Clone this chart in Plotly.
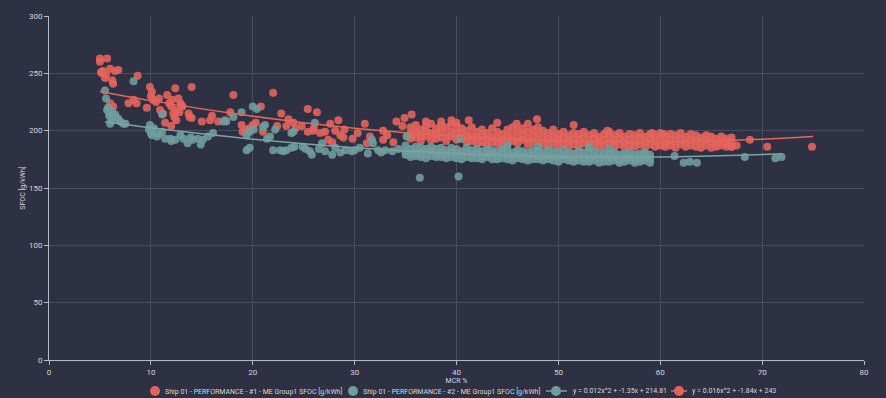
import plotly.graph_objects as go

# ---------------- data ----------------
# Ship 01 #1 (red) scattered points
red_x = [
    5.0, 5.0, 5.7, 5.1, 5.2, 6.0, 6.5, 6.8, 5.5, 6.2, 6.3, 8.7, 7.8, 8.6, 8.3, 6.0, 6.3, 5.3, 5.6,
    9.9, 10.1, 10.0, 10.2, 9.6, 10.5, 11.6, 12.4, 12.1, 12.0, 12.2, 12.5, 12.9, 12.7, 13.1, 11.4, 12.0,
    12.5, 14.0, 13.8, 13.7, 14.0, 15.0, 11.2, 10.9, 11.8, 12.3, 12.8, 13.0, 10.8,
    18.1, 17.8, 16.6, 17.3, 18.9, 19.0, 19.3, 19.7, 20.0, 20.8, 20.3, 22.0, 22.8, 22.4, 23.3, 24.2,
    21.0, 19.5, 16.0, 15.8,
    24.8, 25.4, 25.4, 26.3, 25.9, 26.6, 27.1, 27.6, 28.4, 28.1, 28.6, 27.4, 27.8, 28.9, 29.8, 31.0,
    31.2, 31.5, 32.8, 32.8, 33.8, 34.1, 34.7, 34.9, 35.6, 33.2, 35.3, 30.3, 29.0, 26.0, 24.0, 23.5,
    41.2, 44.0, 45.9, 47.0, 47.9, 51.5, 54.8, 59.2, 60.3, 67.0, 67.5, 68.8, 70.5, 74.9, 38.5, 39.5,
    40.0, 37.0,
]
red_y = [
    263, 260, 263, 251, 250, 254, 252, 253, 246, 244, 241, 248, 224, 224, 227, 224, 221, 252, 249,
    238, 234, 230, 227, 220, 225, 231, 237, 227, 221, 215, 218, 224, 228, 221, 207, 204,
    209, 238, 212, 215, 211, 208, 215, 218, 224, 212, 216, 222, 228,
    231, 216, 208, 209, 205, 199, 201, 202, 205, 221, 207, 233, 215, 204, 204, 202,
    199, 200, 213, 209,
    204, 199, 219, 216, 200, 198, 199, 206, 209, 200, 196, 192, 190, 194, 193, 206,
    189, 195, 200, 192, 190, 208, 204, 211, 214, 196, 195, 198, 201, 202, 207, 210,
    209, 207, 206, 206, 210, 205, 200, 198, 197, 186, 187, 192, 186, 186, 208, 209,
    207, 208,
]
# dense band of #1 readings (35 - 67 % MCR)
red_band_x = [
    35.5, 35.5, 35.5, 36.0, 36.0, 36.0, 36.5, 36.5, 36.5, 37.0, 37.0, 37.0, 37.5, 37.5, 37.5,
    38.0, 38.0, 38.0, 38.5, 38.5, 38.5, 39.0, 39.0, 39.0, 39.5, 39.5, 39.5, 40.0, 40.0, 40.0,
    40.5, 40.5, 40.5, 41.0, 41.0, 41.0, 41.5, 41.5, 41.5, 42.0, 42.0, 42.0, 42.5, 42.5, 42.5,
    43.0, 43.0, 43.0, 43.5, 43.5, 43.5, 44.0, 44.0, 44.0, 44.5, 44.5, 44.5, 45.0, 45.0, 45.0,
    45.5, 45.5, 45.5, 46.0, 46.0, 46.0, 46.5, 46.5, 46.5, 47.0, 47.0, 47.0, 47.5, 47.5, 47.5,
    48.0, 48.0, 48.0, 48.5, 48.5, 48.5, 49.0, 49.0, 49.0, 49.5, 49.5, 49.5, 50.0, 50.0, 50.0,
    50.5, 50.5, 50.5, 51.0, 51.0, 51.0, 51.5, 51.5, 51.5, 52.0, 52.0, 52.0, 52.5, 52.5, 52.5,
    53.0, 53.0, 53.0, 53.5, 53.5, 53.5, 54.0, 54.0, 54.0, 54.5, 54.5, 54.5, 55.0, 55.0, 55.0,
    55.5, 55.5, 55.5, 56.0, 56.0, 56.0, 56.5, 56.5, 56.5, 57.0, 57.0, 57.0, 57.5, 57.5, 57.5,
    58.0, 58.0, 58.0, 58.5, 58.5, 58.5, 59.0, 59.0, 59.0, 59.5, 59.5, 59.5, 60.0, 60.0, 60.0,
    60.5, 60.5, 60.5, 61.0, 61.0, 61.0, 61.5, 61.5, 61.5, 62.0, 62.0, 62.0, 62.5, 62.5, 62.5,
    63.0, 63.0, 63.0, 63.5, 63.5, 63.5, 64.0, 64.0, 64.0, 64.5, 64.5, 64.5, 65.0, 65.0, 65.0,
    65.5, 65.5, 65.5, 66.0, 66.0, 66.0, 66.5, 66.5, 66.5, 67.0, 67.0, 67.0,
]
red_band_y = [
    203, 198, 193, 205, 199, 194, 201, 196, 191, 204, 200, 195, 206, 198, 192,
    202, 197, 193, 205, 200, 194, 203, 196, 191, 206, 199, 195, 204, 198, 192,
    202, 197, 193, 200, 195, 190, 203, 196, 191, 199, 194, 189, 201, 196, 190,
    198, 193, 188, 202, 195, 190, 199, 194, 189, 197, 192, 187, 201, 195, 190,
    203, 196, 191, 200, 194, 189, 202, 197, 192, 199, 193, 188, 201, 196, 190,
    203, 197, 191, 200, 194, 188, 198, 193, 187, 201, 195, 189, 197, 192, 187,
    199, 194, 188, 196, 191, 186, 198, 193, 188, 197, 192, 186, 199, 194, 189,
    196, 190, 185, 198, 193, 188, 195, 191, 186, 197, 192, 187, 199, 194, 189,
    196, 191, 186, 198, 193, 188, 195, 190, 185, 197, 192, 187, 196, 191, 186,
    198, 194, 188, 195, 190, 185, 197, 193, 188, 196, 191, 186, 198, 193, 187,
    195, 190, 186, 197, 192, 187, 196, 191, 185, 198, 193, 188, 195, 190, 186,
    197, 192, 187, 196, 191, 186, 194, 190, 185, 196, 192, 187, 195, 190, 185,
    193, 189, 186, 195, 191, 187, 193, 189, 186, 194, 190, 186,
]

# Ship 01 #2 (teal) scattered points
teal_x = [
    5.5, 5.6, 5.7, 6.0, 6.3, 6.1, 6.7, 7.0, 7.3, 6.0, 5.8, 6.5, 7.5, 5.9, 8.3, 6.2, 6.8,
    9.9, 10.1, 10.1, 10.6, 11.1, 11.4, 11.9, 12.4, 12.9, 13.2, 13.6, 14.1, 14.6, 15.1, 15.6, 16.1,
    11.1, 10.3, 10.0, 10.8, 12.0, 13.9, 14.9, 9.8,
    17.4, 18.1, 18.9, 20.0, 19.4, 19.7, 20.1, 21.0, 21.2, 21.7, 22.2, 19.4, 19.7, 22.0, 22.7, 23.0,
    23.3, 23.8, 24.0, 17.1, 20.4, 21.4, 23.8,
    24.1, 24.9, 25.6, 25.8, 26.1, 26.8, 27.1, 27.8, 28.1, 29.1, 29.7, 30.5, 31.3, 31.7, 31.8, 32.3,
    33.0, 33.7, 34.3, 26.5, 28.6, 30.0, 32.6, 25.2,
    61.4, 62.3, 62.9, 63.6, 68.3, 71.3, 71.9, 36.4, 40.2, 35.1, 40.3, 45.0, 48.0, 55.0, 53.0,
]
teal_y = [
    235, 228, 218, 215, 212, 209, 211, 208, 206, 206, 220, 214, 206, 213, 243, 217, 210,
    205, 200, 196, 195, 199, 193, 193, 192, 196, 193, 189, 192, 193, 192, 195, 198,
    214, 202, 198, 197, 191, 194, 188, 201,
    208, 212, 216, 221, 196, 199, 201, 203, 205, 195, 201, 183, 185, 183, 183, 182,
    183, 185, 199, 208, 219, 193, 198,
    186, 186, 182, 179, 207, 189, 182, 179, 185, 183, 182, 185, 180, 192, 189, 183,
    183, 182, 184, 184, 181, 183, 181, 184,
    178, 172, 173, 172, 177, 176, 177, 159, 160, 195, 193, 187, 186, 184, 186,
]
# dense band of #2 readings (35 - 59 % MCR)
teal_band_x = [
    35.0, 35.0, 35.0, 35.5, 35.5, 35.5, 36.0, 36.0, 36.0, 36.5, 36.5, 36.5, 37.0, 37.0, 37.0,
    37.5, 37.5, 37.5, 38.0, 38.0, 38.0, 38.5, 38.5, 38.5, 39.0, 39.0, 39.0, 39.5, 39.5, 39.5,
    40.0, 40.0, 40.0, 40.5, 40.5, 40.5, 41.0, 41.0, 41.0, 41.5, 41.5, 41.5, 42.0, 42.0, 42.0,
    42.5, 42.5, 42.5, 43.0, 43.0, 43.0, 43.5, 43.5, 43.5, 44.0, 44.0, 44.0, 44.5, 44.5, 44.5,
    45.0, 45.0, 45.0, 45.5, 45.5, 45.5, 46.0, 46.0, 46.0, 46.5, 46.5, 46.5, 47.0, 47.0, 47.0,
    47.5, 47.5, 47.5, 48.0, 48.0, 48.0, 48.5, 48.5, 48.5, 49.0, 49.0, 49.0, 49.5, 49.5, 49.5,
    50.0, 50.0, 50.0, 50.5, 50.5, 50.5, 51.0, 51.0, 51.0, 51.5, 51.5, 51.5, 52.0, 52.0, 52.0,
    52.5, 52.5, 52.5, 53.0, 53.0, 53.0, 53.5, 53.5, 53.5, 54.0, 54.0, 54.0, 54.5, 54.5, 54.5,
    55.0, 55.0, 55.0, 55.5, 55.5, 55.5, 56.0, 56.0, 56.0, 56.5, 56.5, 56.5, 57.0, 57.0, 57.0,
    57.5, 57.5, 57.5, 58.0, 58.0, 58.0, 58.5, 58.5, 58.5, 59.0, 59.0, 59.0,
]
teal_band_y = [
    187, 182, 179, 184, 180, 177, 186, 181, 178, 185, 181, 177, 184, 180, 176,
    186, 182, 178, 184, 180, 177, 185, 181, 177, 183, 179, 176, 185, 181, 177,
    184, 180, 176, 182, 179, 175, 185, 181, 177, 183, 179, 176, 184, 180, 176,
    182, 178, 175, 184, 180, 177, 183, 179, 175, 182, 178, 175, 184, 180, 176,
    183, 179, 175, 181, 178, 174, 183, 179, 176, 182, 178, 175, 181, 177, 174,
    183, 179, 175, 182, 178, 175, 181, 177, 174, 183, 178, 175, 182, 177, 174,
    181, 177, 173, 183, 178, 175, 181, 177, 174, 180, 176, 173, 182, 177, 174,
    181, 176, 173, 180, 176, 173, 182, 177, 174, 180, 176, 172, 181, 177, 173,
    180, 176, 173, 181, 177, 174, 179, 175, 172, 180, 176, 173, 181, 177, 174,
    179, 175, 172, 180, 176, 173, 181, 177, 174, 179, 175, 172,
]

# trend lines
teal_fit_x = [5.5, 10, 15, 20, 25, 30, 35, 40, 45, 50, 55, 60, 65, 72]
teal_fit_y = [207.8, 202.5, 197.3, 192.6, 188.6, 185.1, 182.3, 180.0, 178.4, 177.3, 176.9, 177.0, 177.8, 179.8]
red_fit_x = [5, 10, 15, 20, 25, 30, 35, 40, 45, 50, 55, 60, 65, 70, 75]
red_fit_y = [234.2, 226.2, 219.0, 212.6, 207.0, 202.2, 198.2, 195.0, 192.6, 191.0, 190.2, 190.2, 191.0, 192.6, 195.0]

name_red = "Ship 01 - PERFORMANCE - #1 - ME Group1 SFOC [g/kWh]"
name_teal = "Ship 01 - PERFORMANCE - #2 - ME Group1 SFOC [g/kWh]"
name_teal_fit = "y = 0.012x^2 + -1.35x + 214.81"
name_red_fit = "y = 0.016x^2 + -1.84x + 243"

x_ticks = [0, 10, 20, 30, 40, 50, 60, 70, 80]
y_ticks = [0, 50, 100, 150, 200, 250, 300]

# ---------------- styles ----------------
BG = "#2e3143"
RED = "#e4645c"
TEAL = "#6f9c9c"
RED_LINE = "#e4675c"
TEAL_LINE = "#7aa5a5"
GRID = "#494c5c"
AXIS = "#b9bbc3"
FONT = "Liberation Sans Narrow, Roboto, Lato, sans-serif"
TXT = "#d6d7dc"

W, H = 886, 398
ML, MR, MT, MB = 49, 22, 16, 38
PW, PH = W - ML - MR, H - MT - MB


def px_x(p):
    return (p - ML) / PW


def px_y(p):
    return (H - MB - p) / PH


fig = go.Figure()
fig.add_trace(go.Scatter(
    x=red_x + red_band_x, y=red_y + red_band_y, mode="markers", name=name_red,
    marker=dict(color=RED, size=8, opacity=0.9, line=dict(width=0)), showlegend=False,
))
fig.add_trace(go.Scatter(
    x=teal_x + teal_band_x, y=teal_y + teal_band_y, mode="markers", name=name_teal,
    marker=dict(color=TEAL, size=8, opacity=0.9, line=dict(width=0)), showlegend=False,
))
fig.add_trace(go.Scatter(
    x=teal_fit_x, y=teal_fit_y, mode="lines", name=name_teal_fit,
    line=dict(color=TEAL_LINE, width=1.5, shape="spline"), showlegend=False,
))
fig.add_trace(go.Scatter(
    x=red_fit_x, y=red_fit_y, mode="lines", name=name_red_fit,
    line=dict(color=RED_LINE, width=1.5, shape="spline"), showlegend=False,
))

# ---- legend row drawn below the axis (pixel layout) ----
LEG_Y = 391
legend_items = [
    # (kind, symbol centre px, line start px, line end px, text left px, label, marker colour, line colour)
    ("dot", 155, None, None, 163, name_red, RED, None),
    ("dot", 353, None, None, 361, name_teal, TEAL, None),
    ("line", 556, 546, 567, 571, name_teal_fit, TEAL, TEAL_LINE),
    ("line", 679, 671, 687, 690, name_red_fit, RED, RED_LINE),
]
shapes = []
annotations = []
for kind, cx, l0, l1, tx, label, mcol, lcol in legend_items:
    if kind == "line":
        shapes.append(dict(
            type="line", xref="paper", yref="paper",
            x0=px_x(l0), x1=px_x(l1), y0=px_y(LEG_Y), y1=px_y(LEG_Y),
            line=dict(color=lcol, width=1.5),
        ))
    r = 5
    shapes.append(dict(
        type="circle", xref="paper", yref="paper",
        xsizemode="pixel", ysizemode="pixel",
        xanchor=px_x(cx), yanchor=px_y(LEG_Y),
        x0=-r, x1=r, y0=-r, y1=r,
        fillcolor=mcol, line=dict(width=0),
    ))
    annotations.append(dict(
        text=label, xref="paper", yref="paper",
        x=px_x(tx), y=px_y(LEG_Y), xanchor="left", yanchor="middle",
        showarrow=False, font=dict(size=7, color=TXT, family=FONT),
    ))

fig.update_layout(
    width=W, height=H,
    paper_bgcolor=BG, plot_bgcolor=BG,
    margin=dict(l=ML, r=MR, t=MT, b=MB, autoexpand=False),
    font=dict(family=FONT, size=8, color=TXT),
    showlegend=False,
    shapes=shapes,
    annotations=annotations,
)
fig.update_xaxes(
    range=[0, 80], tickvals=x_ticks, showgrid=True, gridcolor=GRID, gridwidth=1,
    showline=True, linecolor=AXIS, linewidth=1, ticks="outside", tickcolor=AXIS, ticklen=4,
    zeroline=False, tickfont=dict(size=8, color=TXT),
    title=dict(text="MCR %", font=dict(size=7, color=TXT), standoff=2),
)
fig.update_yaxes(
    range=[0, 300], tickvals=y_ticks, showgrid=True, gridcolor=GRID, gridwidth=1,
    showline=True, linecolor=AXIS, linewidth=1, ticks="outside", tickcolor=AXIS, ticklen=4,
    zeroline=False, tickfont=dict(size=8, color=TXT),
    title=dict(text="SFOC [g/kWh]", font=dict(size=7, color=TXT), standoff=2),
)

fig.write_html(
    "out.html",
    config={"displayModeBar": False},
    post_script="document.body.style.margin='0';document.body.style.background='#2e3143';",
)
